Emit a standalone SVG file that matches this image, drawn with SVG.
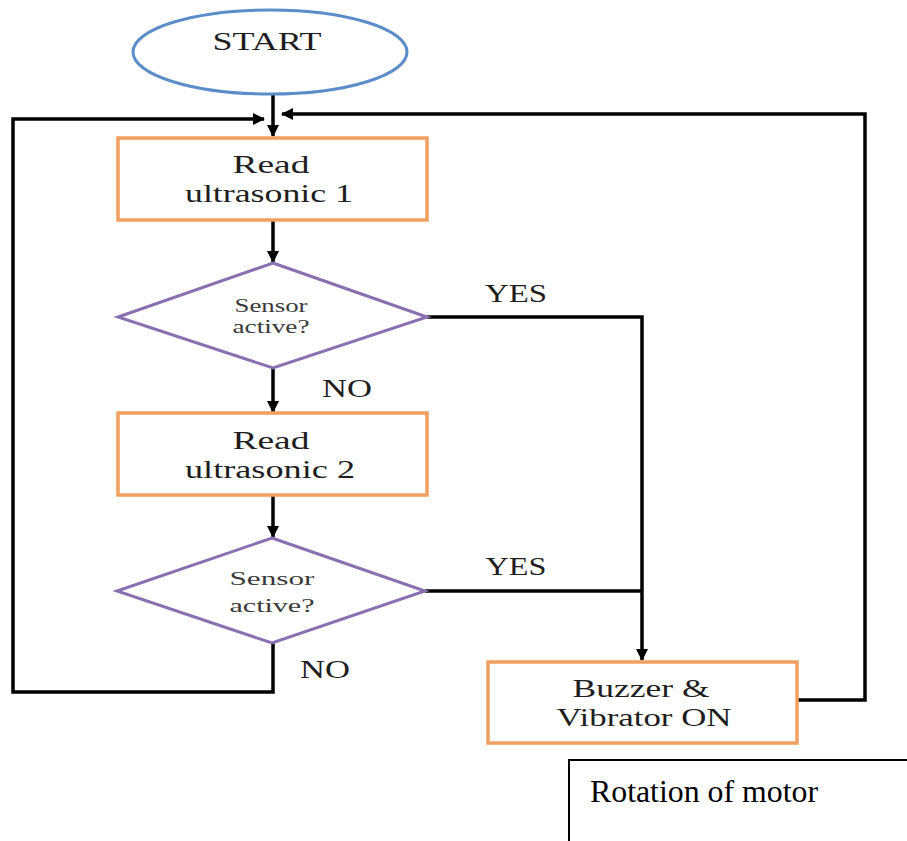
<svg xmlns="http://www.w3.org/2000/svg" width="907" height="841" viewBox="0 0 907 841">
<defs>
<marker id="ah" markerWidth="12" markerHeight="12" refX="11" refY="6" orient="auto" markerUnits="userSpaceOnUse">
<path d="M0,0 L12,6 L0,12 Z" fill="#000"/>
</marker>
<style>
text{font-family:Liberation Serif, serif}
.t{fill:#1e1e1e;text-anchor:middle}
.big{font-size:25px}
.sm{font-size:18px;fill:#3a3a3a}
.box{fill:#fff;stroke:#f0a060;stroke-width:3.5}
.dia{fill:#fff;stroke:#8a70b0;stroke-width:3}
.ln{fill:none;stroke:#000;stroke-width:3.5}
</style>
</defs>
<rect width="907" height="841" fill="#fff"/>
<g id="connectors">
<line class="ln" x1="273" y1="95" x2="273" y2="136" marker-end="url(#ah)"/>
<polyline class="ln" points="273,643 273,692 13,692 13,119 264,119" marker-end="url(#ah)"/>
<polyline class="ln" points="797,700 865,700 865,114 282,114" marker-end="url(#ah)"/>
<line class="ln" x1="273" y1="220" x2="273" y2="262" marker-end="url(#ah)"/>
<line class="ln" x1="273" y1="368" x2="273" y2="412" marker-end="url(#ah)"/>
<line class="ln" x1="273" y1="495" x2="273" y2="537" marker-end="url(#ah)"/>
<polyline class="ln" points="427,317 642,317 642,660" marker-end="url(#ah)"/>
<line class="ln" x1="425" y1="591" x2="642" y2="591"/>
<text class="t big" x="516" y="302" textLength="62" lengthAdjust="spacingAndGlyphs">YES</text>
<text class="t big" x="516" y="575" textLength="61" lengthAdjust="spacingAndGlyphs">YES</text>
<text class="t big" x="347" y="397" textLength="50" lengthAdjust="spacingAndGlyphs">NO</text>
<text class="t big" x="325" y="678" textLength="50" lengthAdjust="spacingAndGlyphs">NO</text>
</g>
<g id="start">
<ellipse cx="270" cy="52" rx="137" ry="42" fill="#fff" stroke="#5b8dc8" stroke-width="3"/>
<text class="t big" x="267" y="50" textLength="109" lengthAdjust="spacingAndGlyphs">START</text>
</g>
<g id="read1">
<rect class="box" x="118" y="138" width="309" height="82"/>
<text class="t big" x="271" y="173" textLength="77" lengthAdjust="spacingAndGlyphs">Read</text>
<text class="t big" x="269" y="202" textLength="168" lengthAdjust="spacingAndGlyphs">ultrasonic 1</text>
</g>
<g id="decision1">
<polygon class="dia" points="273,263 427,317 273,368 118,317"/>
<text class="t sm" x="271" y="312" textLength="73" lengthAdjust="spacingAndGlyphs">Sensor</text>
<text class="t sm" x="271" y="333" textLength="77" lengthAdjust="spacingAndGlyphs">active?</text>
</g>
<g id="read2">
<rect class="box" x="118" y="413" width="309" height="82"/>
<text class="t big" x="271" y="449" textLength="77" lengthAdjust="spacingAndGlyphs">Read</text>
<text class="t big" x="270" y="478" textLength="170" lengthAdjust="spacingAndGlyphs">ultrasonic 2</text>
</g>
<g id="decision2">
<polygon class="dia" points="272,538 425,591 272,643 117,591"/>
<text class="t sm" x="272" y="585" font-size="20" textLength="85" lengthAdjust="spacingAndGlyphs">Sensor</text>
<text class="t sm" x="272" y="612" font-size="20" textLength="85" lengthAdjust="spacingAndGlyphs">active?</text>
</g>
<g id="buzzer">
<rect class="box" x="488" y="662" width="309" height="81"/>
<text class="t big" x="641" y="697" textLength="137" lengthAdjust="spacingAndGlyphs">Buzzer &amp;</text>
<text class="t big" x="644" y="726" textLength="175" lengthAdjust="spacingAndGlyphs">Vibrator ON</text>
</g>
<g id="rotation">
<polyline points="569,841 569,760 907,760" fill="none" stroke="#000" stroke-width="2"/>
<text x="590" y="802" font-size="31" fill="#000" textLength="228" lengthAdjust="spacingAndGlyphs">Rotation of motor</text>
</g>
</svg>
